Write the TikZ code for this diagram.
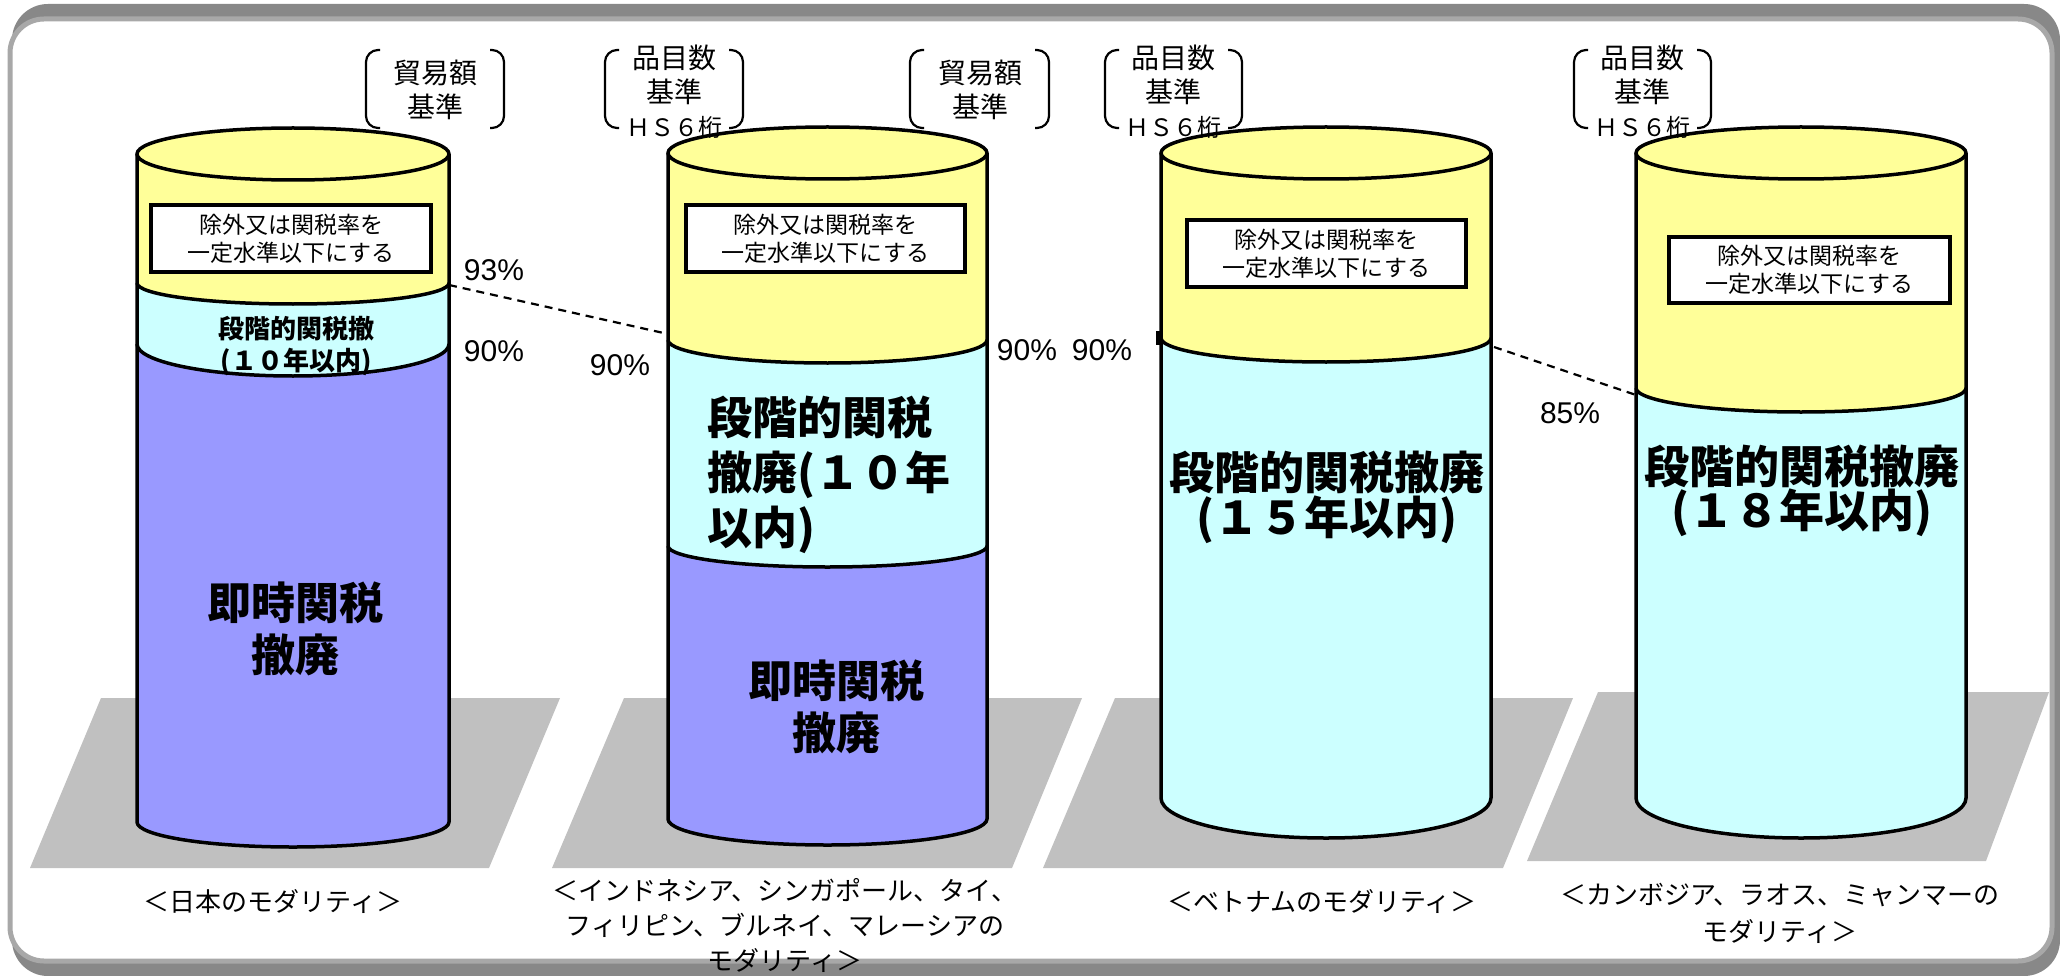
\documentclass[tikz,border=0pt]{standalone}
\usepackage{fontspec}
\setmainfont{Noto Sans CJK JP}
\newfontfamily\pctfont{Liberation Sans}
\definecolor{cylY}{HTML}{FFFF99}
\definecolor{cylC}{HTML}{CCFFFF}
\definecolor{cylP}{HTML}{9999FF}
\definecolor{floorG}{HTML}{C0C0C0}
\definecolor{frameD}{HTML}{888888}
\definecolor{frameL}{HTML}{A8A8A8}
\tikzset{
  outline/.style={draw=black, line width=3.5pt, line join=round},
  floorpart/.style={fill=floorG},
  labelbox/.style={draw=black, fill=white, line width=4pt, inner sep=0pt, align=center,
     font=\fontsize{23}{28}\selectfont},
  bracketline/.style={draw=black, line width=2.2pt, rounded corners=12pt},
  brtext/.style={inner sep=0pt, align=center, font=\fontsize{28}{34}\selectfont},
  pctlabel/.style={inner sep=0pt, font=\pctfont\fontsize{30}{34}\selectfont},
  bigtext/.style={inner sep=0pt, align=center, font=\bfseries\fontsize{44}{52}\selectfont},
  captext/.style={inner sep=0pt, align=center, font=\fontsize{26}{35}\selectfont},
  guide/.style={draw=black, line width=2.2pt, dash pattern=on 8pt off 6pt},
}
\begin{document}
\begin{tikzpicture}[x=1pt,y=-1pt]
\useasboundingbox (0,0) rectangle (2060,976);
% frame
\fill[frameD, rounded corners=36pt] (12,4) rectangle (2060,976);
\draw[fill=white, draw=frameL, line width=5pt, rounded corners=34pt] (10,19) rectangle (2052,961);
% floors
\fill[floorpart] (101,698) -- (560,698) -- (489,868) -- (30,868) -- cycle;
\fill[floorpart] (624,698) -- (1082,698) -- (1012,868) -- (552,868) -- cycle;
\fill[floorpart] (1115,698) -- (1573,698) -- (1503,868) -- (1043,868) -- cycle;
\fill[floorpart] (1598,692) -- (2049,692) -- (1986,861) -- (1527,861) -- cycle;

% ---------- cylinder 1 (Japan)
\fill[cylY] (137,154) -- (137,822) arc[start angle=180,end angle=0,x radius=156,y radius=25] -- (449,154) -- cycle;
\fill[cylC] (137,283) arc[start angle=180,end angle=0,x radius=156,y radius=21] -- (449,344) arc[start angle=0,end angle=180,x radius=156,y radius=32] -- cycle;
\fill[cylP] (137,344) arc[start angle=180,end angle=0,x radius=156,y radius=32] -- (449,822) arc[start angle=0,end angle=180,x radius=156,y radius=25] -- cycle;
\draw[outline] (137,154) -- (137,822) arc[start angle=180,end angle=0,x radius=156,y radius=25] -- (449,154);
\draw[outline] (137,283) arc[start angle=180,end angle=0,x radius=156,y radius=21];
\draw[outline] (137,344) arc[start angle=180,end angle=0,x radius=156,y radius=32];
\draw[outline, fill=cylY] (293,154) ellipse[x radius=156, y radius=26];

% ---------- cylinder 2
\fill[cylY] (668,153) -- (668,819) arc[start angle=180,end angle=0,x radius=159.5,y radius=26] -- (987,153) -- cycle;
\fill[cylC] (668,340) arc[start angle=180,end angle=0,x radius=159.5,y radius=23] -- (987,546) arc[start angle=0,end angle=180,x radius=159.5,y radius=21] -- cycle;
\fill[cylP] (668,546) arc[start angle=180,end angle=0,x radius=159.5,y radius=21] -- (987,819) arc[start angle=0,end angle=180,x radius=159.5,y radius=26] -- cycle;
\draw[outline] (668,153) -- (668,819) arc[start angle=180,end angle=0,x radius=159.5,y radius=26] -- (987,153);
\draw[outline] (668,340) arc[start angle=180,end angle=0,x radius=159.5,y radius=23];
\draw[outline] (668,546) arc[start angle=180,end angle=0,x radius=159.5,y radius=21];
\draw[outline, fill=cylY] (827.5,153) ellipse[x radius=159.5, y radius=26];

% ---------- cylinder 3
\fill[cylY] (1161,153) -- (1161,798) arc[start angle=180,end angle=0,x radius=165,y radius=40] -- (1491,153) -- cycle;
\fill[cylC] (1161,338) arc[start angle=180,end angle=0,x radius=165,y radius=24] -- (1491,798) arc[start angle=0,end angle=180,x radius=165,y radius=40] -- cycle;
\draw[outline] (1161,153) -- (1161,798) arc[start angle=180,end angle=0,x radius=165,y radius=40] -- (1491,153);
\draw[outline] (1161,338) arc[start angle=180,end angle=0,x radius=165,y radius=24];
\draw[outline, fill=cylY] (1326,153) ellipse[x radius=165, y radius=26];
\draw[line width=4pt] (1158,331) -- (1158,345);

% ---------- cylinder 4
\fill[cylY] (1636,153) -- (1636,798) arc[start angle=180,end angle=0,x radius=165,y radius=40] -- (1966,153) -- cycle;
\fill[cylC] (1636,388) arc[start angle=180,end angle=0,x radius=165,y radius=24] -- (1966,798) arc[start angle=0,end angle=180,x radius=165,y radius=40] -- cycle;
\draw[outline] (1636,153) -- (1636,798) arc[start angle=180,end angle=0,x radius=165,y radius=40] -- (1966,153);
\draw[outline] (1636,388) arc[start angle=180,end angle=0,x radius=165,y radius=24];
\draw[outline, fill=cylY] (1801,153) ellipse[x radius=165, y radius=26];

% ---------- dashed guides
\coordinate (g1a) at (449,285);
\coordinate (g1b) at (668,334);
\coordinate (g2a) at (1494,347);
\coordinate (g2b) at (1636,395);
\draw[guide] (g1a) -- (g1b);
\draw[guide] (g2a) -- (g2b);

% ---------- label boxes
\node[labelbox, minimum width=280pt, minimum height=67pt] (box1) at (291,238.5) {除外又は関税率を\\一定水準以下にする};
\node[labelbox, minimum width=279pt, minimum height=67pt] (box2) at (825.5,238.5) {除外又は関税率を\\一定水準以下にする};
\node[labelbox, minimum width=279pt, minimum height=67pt] (box3) at (1326.5,253.5) {除外又は関税率を\\一定水準以下にする};
\node[labelbox, minimum width=281pt, minimum height=66pt] (box4) at (1809.5,270) {除外又は関税率を\\一定水準以下にする};

% ---------- cylinder texts
\node[inner sep=0pt, align=center, font=\bfseries\fontsize{26}{32}\selectfont] (t1a) at (296,346) {段階的関税撤\\(１０年以内)};
\node[bigtext] (t1b) at (295,629) {即時関税\\撤廃};
\node[bigtext, anchor=west, align=left, font=\bfseries\fontsize{45}{55}\selectfont] (t2a) at (707,475) {段階的関税\\撤廃(１０年\\以内)};
\node[bigtext] (t2b) at (836,707) {即時関税\\撤廃};
\node[bigtext, font=\bfseries\fontsize{45}{45}\selectfont] (t3) at (1327,497) {段階的関税撤廃\\(１５年以内)};
\node[bigtext, font=\bfseries\fontsize{45}{43}\selectfont] (t4) at (1802,491) {段階的関税撤廃\\(１８年以内)};

% ---------- percentages
\node[pctlabel] (p93) at (494,270) {93\%};
\node[pctlabel] (p90a) at (494,351) {90\%};
\node[pctlabel] (p90b) at (620,365) {90\%};
\node[pctlabel] (p90c) at (1027,350) {90\%};
\node[pctlabel] (p90d) at (1102,350) {90\%};
\node[pctlabel] (p85) at (1570,413) {85\%};

% ---------- brackets and basis labels
\draw[bracketline] (380,50) -- (366,50) -- (366,128) -- (380,128);
\draw[bracketline] (490,50) -- (504,50) -- (504,128) -- (490,128);
\node[brtext] (bl1) at (435,90) {貿易額\\基準};

\draw[bracketline] (619,50) -- (605,50) -- (605,128) -- (619,128);
\draw[bracketline] (729,50) -- (743,50) -- (743,128) -- (729,128);
\node[brtext] (bl2) at (674,92) {品目数\\基準\\{\fontsize{24}{34}\selectfont ＨＳ６桁}};

\draw[bracketline] (924,50) -- (910,50) -- (910,128) -- (924,128);
\draw[bracketline] (1035,50) -- (1049,50) -- (1049,128) -- (1035,128);
\node[brtext] (bl3) at (980,90) {貿易額\\基準};

\draw[bracketline] (1119,50) -- (1105,50) -- (1105,128) -- (1119,128);
\draw[bracketline] (1228,50) -- (1242,50) -- (1242,128) -- (1228,128);
\node[brtext] (bl4) at (1173,92) {品目数\\基準\\{\fontsize{24}{34}\selectfont ＨＳ６桁}};

\draw[bracketline] (1588,50) -- (1574,50) -- (1574,128) -- (1588,128);
\draw[bracketline] (1697,50) -- (1711,50) -- (1711,128) -- (1697,128);
\node[brtext] (bl5) at (1642,92) {品目数\\基準\\{\fontsize{24}{34}\selectfont ＨＳ６桁}};

% ---------- captions
\node[captext] (cap1) at (273,902) {＜日本のモダリティ＞};
\node[captext] (cap2) at (785,925) {＜インドネシア、シンガポール、タイ、\\フィリピン、ブルネイ、マレーシアの\\モダリティ＞};
\node[captext] (cap3) at (1322,902) {＜ベトナムのモダリティ＞};
\node[captext, font=\fontsize{26}{37}\selectfont] (cap4) at (1780,913) {＜カンボジア、ラオス、ミャンマーの\\モダリティ＞};
\end{tikzpicture}
\end{document}
